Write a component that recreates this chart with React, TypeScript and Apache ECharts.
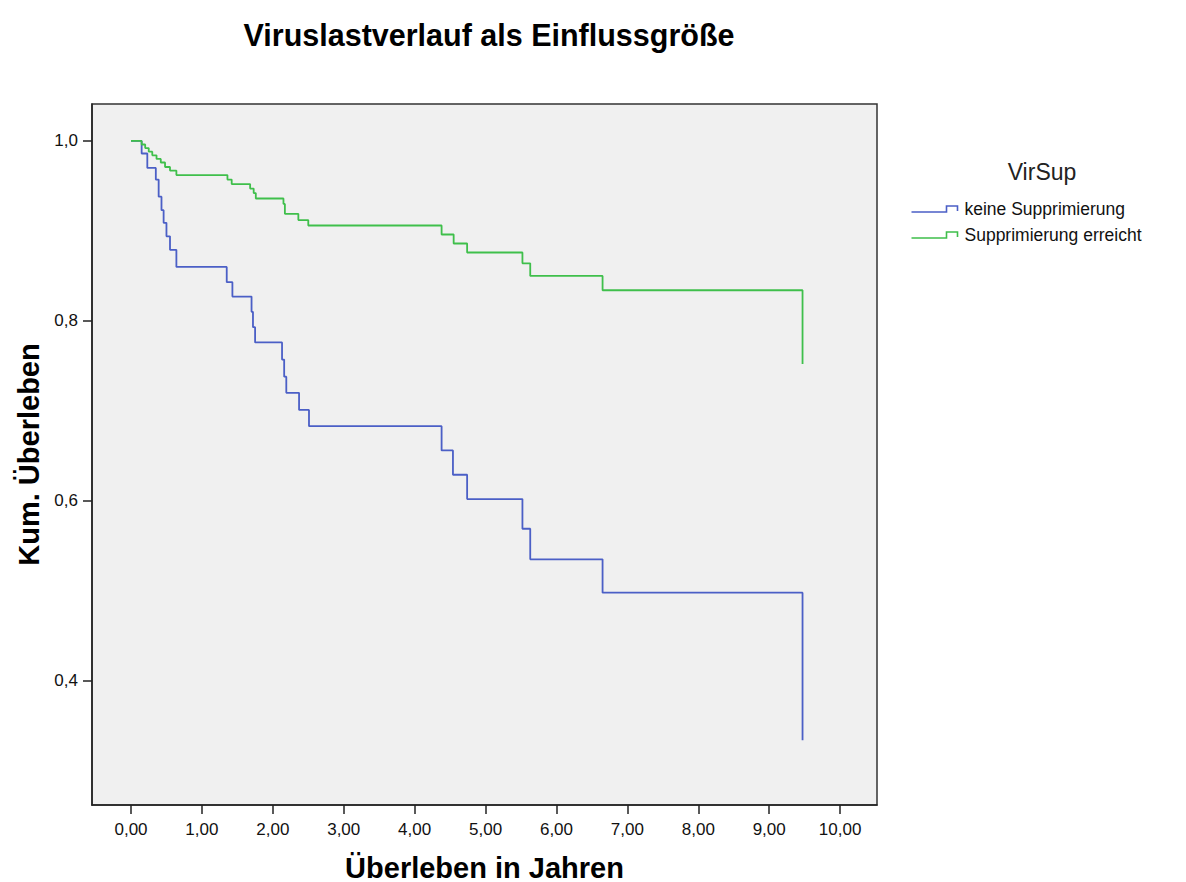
import React, { useEffect, useRef } from "react";
import * as echarts from "echarts";

const xTicks = [0, 1, 2, 3, 4, 5, 6, 7, 8, 9, 10];
const yTicks = [0.4, 0.6, 0.8, 1.0];

const seriesNames = ["keine Supprimierung", "Supprimierung erreicht"];

const blueT = [0, 0.15, 0.23, 0.35, 0.39, 0.43, 0.46, 0.5, 0.55, 0.64, 1.35, 1.43, 1.7, 1.72, 1.75, 2.13, 2.16, 2.19, 2.37, 2.51, 4.38, 4.54, 4.74, 5.52, 5.63, 6.65, 9.47];
const blueS = [1.0, 0.986, 0.97, 0.957, 0.938, 0.923, 0.909, 0.894, 0.879, 0.86, 0.843, 0.827, 0.81, 0.793, 0.776, 0.757, 0.738, 0.72, 0.701, 0.683, 0.656, 0.629, 0.602, 0.569, 0.535, 0.498, 0.334];

const greenT = [0, 0.15, 0.2, 0.25, 0.3, 0.36, 0.42, 0.48, 0.55, 0.64, 1.36, 1.42, 1.68, 1.73, 1.76, 2.15, 2.17, 2.36, 2.5, 4.38, 4.55, 4.74, 5.52, 5.63, 6.65, 9.47];
const greenS = [1.0, 0.996, 0.992, 0.988, 0.984, 0.98, 0.976, 0.971, 0.967, 0.962, 0.957, 0.952, 0.947, 0.942, 0.936, 0.93, 0.919, 0.912, 0.906, 0.896, 0.886, 0.876, 0.864, 0.85, 0.834, 0.752];

const FONT = "Liberation Sans, Arial, sans-serif";
const BLUE = "#4b5fc6";
const GREEN = "#3fbf4b";
const COLORS = [BLUE, GREEN];

export default function App() {
  const ref = useRef<HTMLDivElement>(null);
  useEffect(() => {
    if (!ref.current) return;
    const chart = echarts.init(ref.current, null, { renderer: "svg" });
    const zip = (t: number[], s: number[]) => t.map((x, i) => [x, s[i]]);
    const stepIcon = "path://M0,6 L35,6 L35,0 L46,0 L46,5";
    chart.setOption({
      animation: false,
      backgroundColor: "#ffffff",
      title: {
        text: "Viruslastverlauf als Einflussgröße",
        left: 484,
        top: 14,
        textAlign: "center",
        textStyle: { fontFamily: FONT, fontSize: 30.5, fontWeight: "bold", color: "#000" },
      },
      graphic: [
        {
          type: "text",
          x: 1042,
          y: 172,
          style: {
            text: "VirSup",
            fontFamily: FONT,
            fontSize: 23,
            fill: "#222",
            textAlign: "center",
            textVerticalAlign: "middle",
          },
        },
      ],
      legend: {
        orient: "vertical",
        left: 904,
        top: 195,
        padding: 5,
        itemWidth: 46,
        itemHeight: 6,
        itemGap: 8,
        textStyle: { fontFamily: FONT, fontSize: 17.5, color: "#111", padding: [0, 0, 0, 2] },
        data: seriesNames.map((n, i) => ({
          name: n,
          icon: stepIcon,
          itemStyle: { color: "none", borderColor: COLORS[i], borderWidth: 1.6 },
        })),
      },
      grid: {
        left: 92,
        top: 104,
        width: 785,
        height: 701,
        show: true,
        backgroundColor: "#f0f0f0",
        borderColor: "#333",
        borderWidth: 1.5,
        containLabel: false,
        outerBoundsMode: "none",
      },
      xAxis: {
        type: "value",
        min: -0.55,
        max: 10.52,
        name: "Überleben in Jahren",
        nameLocation: "middle",
        nameGap: 48,
        nameTextStyle: { fontFamily: FONT, fontSize: 29, fontWeight: "bold", color: "#000" },
        axisLine: { show: true, onZero: false, lineStyle: { color: "#222", width: 1.5 } },
        axisTick: { show: true, length: 9, customValues: xTicks, lineStyle: { color: "#222", width: 1.5 } },
        axisLabel: {
          customValues: xTicks,
          margin: 16,
          fontFamily: FONT,
          fontSize: 17,
          color: "#111",
          formatter: (v: number) => v.toFixed(2).replace(".", ","),
        },
        splitLine: { show: false },
      },
      yAxis: {
        type: "value",
        min: 0.262,
        max: 1.041,
        name: "Kum. Überleben",
        nameLocation: "middle",
        nameGap: 47,
        nameTextStyle: { fontFamily: FONT, fontSize: 29, fontWeight: "bold", color: "#000" },
        axisLine: { show: true, onZero: false, lineStyle: { color: "#222", width: 1.5 } },
        axisTick: { show: true, length: 9, customValues: yTicks, lineStyle: { color: "#222", width: 1.5 } },
        axisLabel: {
          customValues: yTicks,
          margin: 14,
          fontFamily: FONT,
          fontSize: 17,
          color: "#111",
          formatter: (v: number) => v.toFixed(1).replace(".", ","),
        },
        splitLine: { show: false },
      },
      series: [
        {
          name: seriesNames[0],
          type: "line",
          step: "end",
          data: zip(blueT, blueS),
          showSymbol: false,
          symbol: "none",
          color: BLUE,
          lineStyle: { color: BLUE, width: 1.8 },
        },
        {
          name: seriesNames[1],
          type: "line",
          step: "end",
          data: zip(greenT, greenS),
          showSymbol: false,
          symbol: "none",
          color: GREEN,
          lineStyle: { color: GREEN, width: 1.8 },
        },
      ],
    });
    return () => chart.dispose();
  }, []);
  return (
    <div
      ref={ref}
      style={{ position: "absolute", left: 0, top: 0, width: 1186, height: 882 }}
    />
  );
}
